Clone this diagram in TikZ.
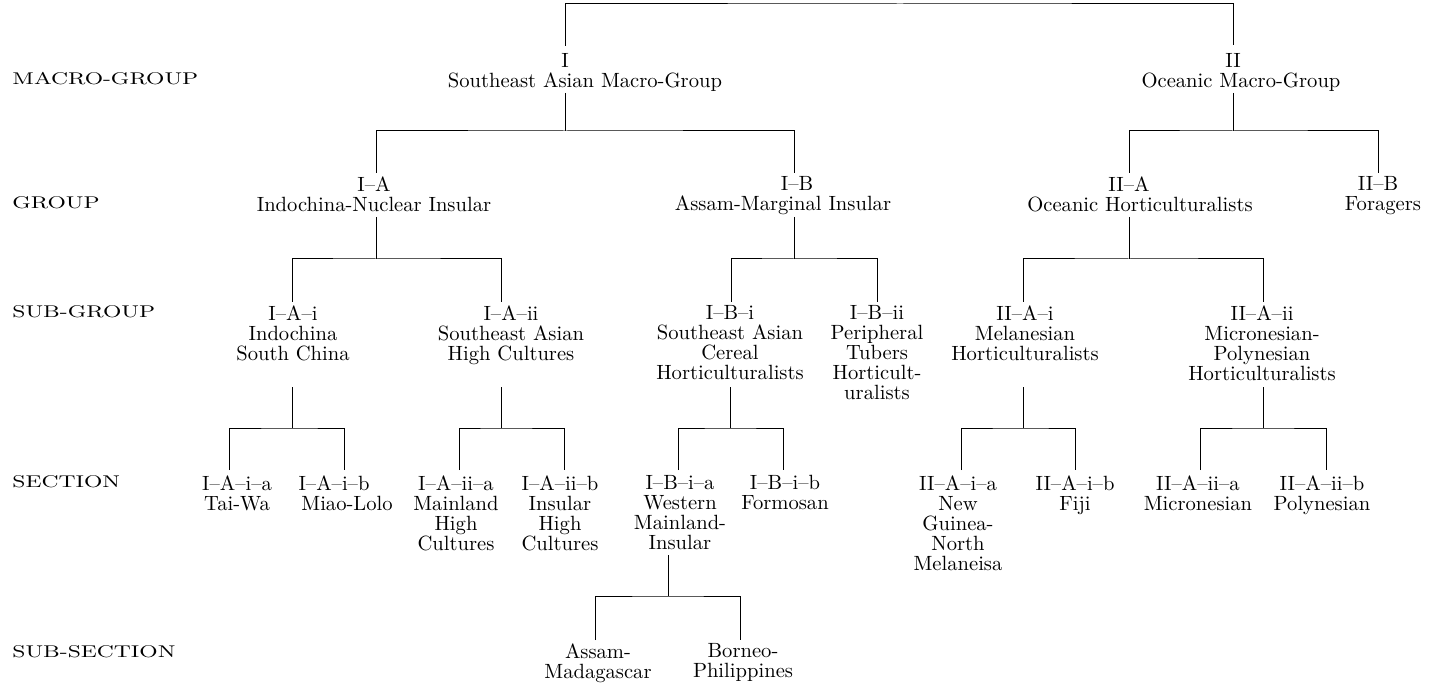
\documentclass[tikz,border=0pt]{standalone}
\usepackage{fontspec}
\usepackage{graphicx}
\newcommand{\idsh}[2]{\hspace*{#1}#2}
\newcommand{\rowtxt}[1]{\scalebox{1.35}[1]{\fontsize{8.5}{9}\selectfont #1}}
\begin{document}
\begin{tikzpicture}[x=0.5pt,y=-0.5pt,
  lbl/.style={inner sep=0pt,align=center,anchor=north,font=\fontsize{10.3}{10}\selectfont},
  rowlbl/.style={inner sep=0pt,anchor=west},
  conn/.style={line width=0.5pt}]
\useasboundingbox (0,0) rectangle (1430,684);

% row labels
\node[rowlbl] (rMacro) at (12,79) {\rowtxt{MACRO-GROUP}};
\node[rowlbl] (rGroup) at (12,203) {\rowtxt{GROUP}};
\node[rowlbl] (rSub) at (12,312) {\rowtxt{SUB-GROUP}};
\node[rowlbl] (rSec) at (12,482) {\rowtxt{SECTION}};
\node[rowlbl] (rSubSec) at (12,652) {\rowtxt{SUB-SECTION}};

% macro groups
\node[lbl] (nI) at (585,53) {\idsh{-20pt}{I}\\Southeast Asian Macro-Group};
\node[lbl] (nII) at (1241,53) {\idsh{-8pt}{II}\\Oceanic Macro-Group};

% groups
\node[lbl] (nIA) at (374,176) {I--A\\Indochina-Nuclear Insular};
\node[lbl] (nIB) at (783,176) {\idsh{14pt}{I--B}\\Assam-Marginal Insular};
\node[lbl] (nIIA) at (1140,176) {\idsh{-11pt}{II--A}\\Oceanic Horticulturalists};
\node[lbl] (nIIB) at (1383,176) {\idsh{-5pt}{II--B}\\Foragers};

% sub-groups
\node[lbl] (nIAi) at (293,305) {I--A--i\\Indochina\\South China};
\node[lbl] (nIAii) at (511,305) {I--A--ii\\Southeast Asian\\High Cultures};
\node[lbl] (nIBi) at (730,305) {I--B--i\\Southeast Asian\\Cereal\\Horticulturalists};
\node[lbl] (nIBii) at (877,305) {I--B--ii\\Peripheral\\Tubers\\Horticult-\\uralists};
\node[lbl] (nIIAi) at (1025,305) {II--A--i\\Melanesian\\Horticulturalists};
\node[lbl] (nIIAii) at (1262,305) {II--A--ii\\Micronesian-\\Polynesian\\Horticulturalists};

% sections
\node[lbl] (nIAia) at (237,475) {I--A--i--a\\Tai-Wa};
\node[lbl] (nIAib) at (347,475) {\idsh{-13pt}{I--A--i--b}\\Miao-Lolo};
\node[lbl] (nIAiia) at (456,475) {I--A--ii--a\\Mainland\\High\\Cultures};
\node[lbl] (nIAiib) at (560,475) {I--A--ii--b\\Insular\\High\\Cultures};
\node[lbl] (nIBia) at (680,475) {I--B--i--a\\Western\\Mainland-\\Insular};
\node[lbl] (nIBib) at (785,475) {I--B--i--b\\Formosan};
\node[lbl] (nIIAia) at (958,475) {II--A--i--a\\New\\Guinea-\\North\\Melaneisa};
\node[lbl] (nIIAib) at (1075,475) {II--A--i--b\\Fiji};
\node[lbl] (nIIAiia) at (1198,475) {II--A--ii--a\\Micronesian};
\node[lbl] (nIIAiib) at (1322,475) {II--A--ii--b\\Polynesian};

% sub-sections
\node[lbl] (nAM) at (598,643) {Assam-\\Madagascar};
\node[lbl] (nBP) at (743,643) {Borneo-\\Philippines};

% ---- connector coordinates
\coordinate (root) at (900,4);
\coordinate (Itop) at (565,46);
\coordinate (IItop) at (1233,45);
\coordinate (Ibot) at (565,93);   \coordinate (Ij) at (565,131);
\coordinate (IAtop) at (376,173); \coordinate (IBtop) at (794,173);
\coordinate (IIbot) at (1233,93); \coordinate (IIj) at (1233,131);
\coordinate (IIAtop) at (1129,173); \coordinate (IIBtop) at (1378,173);
\coordinate (IAbot) at (376,217); \coordinate (IAj) at (376,259);
\coordinate (IAitop) at (292,302); \coordinate (IAiitop) at (501,302);
\coordinate (IBbot) at (794,217); \coordinate (IBj) at (794,259);
\coordinate (IBitop) at (731,302); \coordinate (IBiitop) at (877,302);
\coordinate (IIAbot) at (1129,217); \coordinate (IIAj) at (1129,259);
\coordinate (IIAitop) at (1023,302); \coordinate (IIAiitop) at (1263,302);
\coordinate (IAibot) at (292,387); \coordinate (IAij) at (292,428);
\coordinate (IAiatop) at (229,470); \coordinate (IAibtop) at (344,470);
\coordinate (IAiibot) at (501,387); \coordinate (IAiij) at (501,428);
\coordinate (IAiiatop) at (459,470); \coordinate (IAiibtop) at (564,470);
\coordinate (IBibot) at (730,387); \coordinate (IBij) at (730,428);
\coordinate (IBiatop) at (678,470); \coordinate (IBibtop) at (783,470);
\coordinate (IIAibot) at (1023,387); \coordinate (IIAij) at (1023,428);
\coordinate (IIAiatop) at (961,470); \coordinate (IIAibtop) at (1075,470);
\coordinate (IIAiibot) at (1263,387); \coordinate (IIAiij) at (1263,428);
\coordinate (IIAiiatop) at (1200,470); \coordinate (IIAiibtop) at (1326,470);
\coordinate (IBiabot) at (668,555); \coordinate (IBiaj) at (668,596);
\coordinate (AMtop) at (595,640); \coordinate (BPtop) at (740,640);

% ---- connectors
\draw[conn] (Itop) |- (root) -| (IItop);

\draw[conn] (Ibot) -- (Ij);
\draw[conn] (IAtop) |- (Ij) -| (IBtop);
\draw[conn] (IIbot) -- (IIj);
\draw[conn] (IIAtop) |- (IIj) -| (IIBtop);

\draw[conn] (IAbot) -- (IAj);
\draw[conn] (IAitop) |- (IAj) -| (IAiitop);
\draw[conn] (IBbot) -- (IBj);
\draw[conn] (IBitop) |- (IBj) -| (IBiitop);
\draw[conn] (IIAbot) -- (IIAj);
\draw[conn] (IIAitop) |- (IIAj) -| (IIAiitop);

\draw[conn] (IAibot) -- (IAij);
\draw[conn] (IAiatop) |- (IAij) -| (IAibtop);
\draw[conn] (IAiibot) -- (IAiij);
\draw[conn] (IAiiatop) |- (IAiij) -| (IAiibtop);
\draw[conn] (IBibot) -- (IBij);
\draw[conn] (IBiatop) |- (IBij) -| (IBibtop);
\draw[conn] (IIAibot) -- (IIAij);
\draw[conn] (IIAiatop) |- (IIAij) -| (IIAibtop);
\draw[conn] (IIAiibot) -- (IIAiij);
\draw[conn] (IIAiiatop) |- (IIAiij) -| (IIAiibtop);

\draw[conn] (IBiabot) -- (IBiaj);
\draw[conn] (AMtop) |- (IBiaj) -| (BPtop);
\end{tikzpicture}
\end{document}
